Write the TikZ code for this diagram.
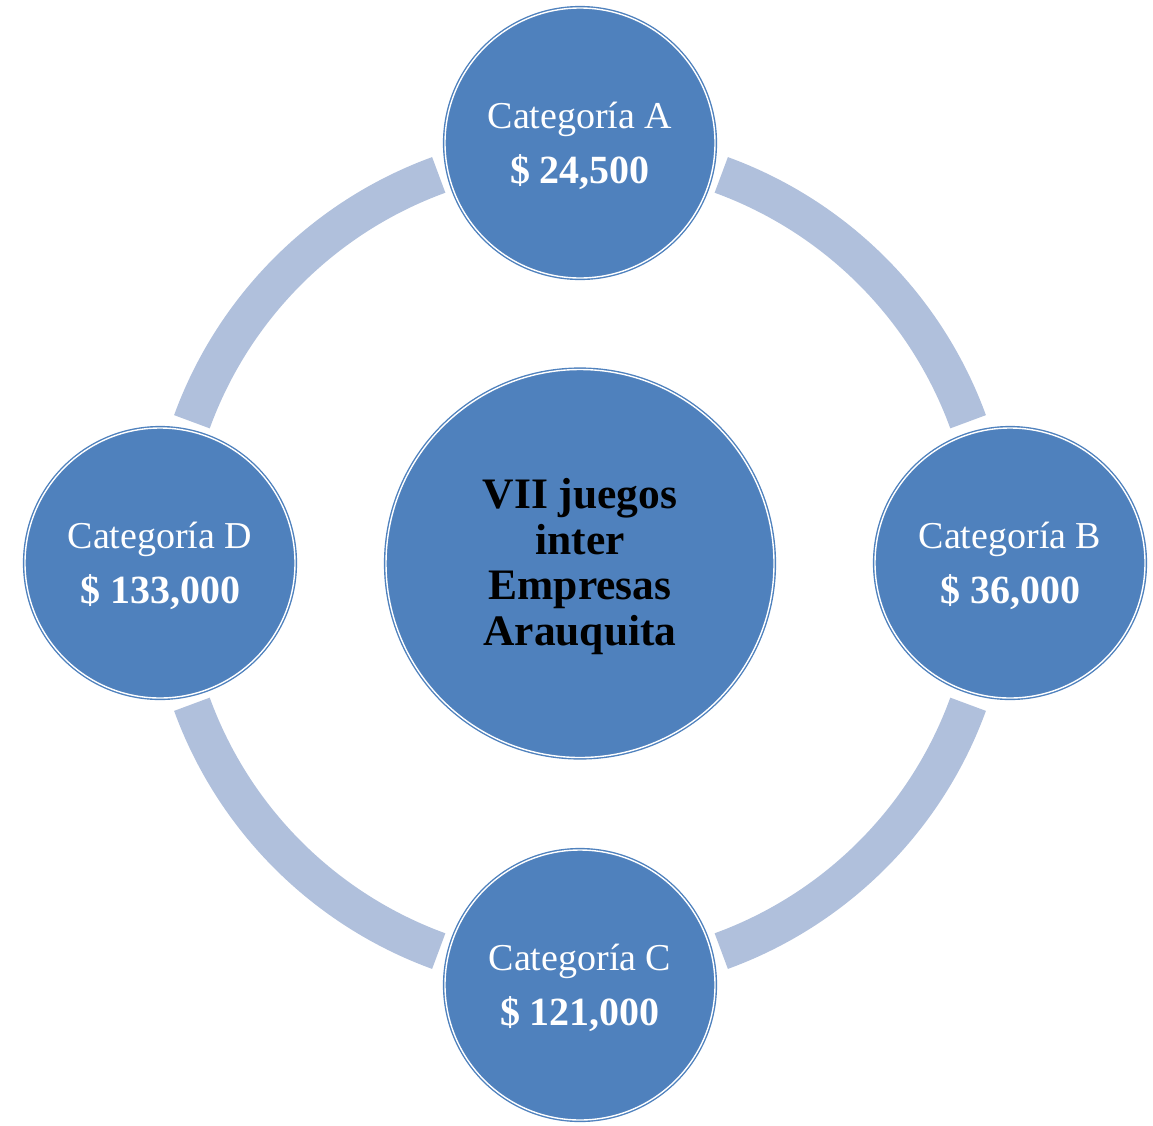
\documentclass[tikz,border=0pt]{standalone}
\usepackage{fontspec}
\setmainfont{Liberation Serif}
\definecolor{cblue}{HTML}{4F81BD}
\definecolor{cring}{HTML}{B0C0DC}
\begin{document}
\begin{tikzpicture}[x=1pt,y=-1pt,
  ringarc/.style={draw=cring,line width=38pt},
  bubble/.style={circle,fill=cblue,draw=cblue,line width=1.4pt,double=white,double distance=1.4pt,inner sep=0pt},
  smallbub/.style={bubble,minimum size=270pt},
  bigbub/.style={bubble,minimum size=388pt},
  cattext/.style={text=white,align=center,inner sep=0pt,font=\fontsize{38}{55}\selectfont},
  maintext/.style={text=black,align=center,inner sep=0pt,font=\bfseries\fontsize{43.5}{45.5}\selectfont}
]
\useasboundingbox (0,0) rectangle (1153,1125);
\coordinate (O) at (580,563);
\foreach \a in {20,110,200,290}{
  \draw[ringarc] (O) ++(\a:413) arc[start angle=\a,end angle=\a+50,radius=413];
}
\node[bigbub] (center) at (580,563.5) {};
\node[smallbub] (A) at (580,143) {};
\node[smallbub] (B) at (1010,563) {};
\node[smallbub] (C) at (580,985) {};
\node[smallbub] (D) at (160,563) {};
\node[maintext] (ct) at ([yshift=-3pt]center.center) {VII juegos\\inter\\Empresas\\Arauquita};
\node[cattext] (at) at ([yshift=-3pt]A.center) {Categoría A\\\textbf{\fontsize{40}{55}\selectfont\$ 24,500}};
\node[cattext] (bt) at ([yshift=-3pt]B.center) {Categoría B\\\textbf{\fontsize{40}{55}\selectfont\$ 36,000}};
\node[cattext] (ctt) at ([yshift=-3pt]C.center) {Categoría C\\\textbf{\fontsize{40}{55}\selectfont\$ 121,000}};
\node[cattext] (dt) at ([yshift=-3pt]D.center) {Categoría D\\\textbf{\fontsize{40}{55}\selectfont\$ 133,000}};
\end{tikzpicture}
\end{document}
